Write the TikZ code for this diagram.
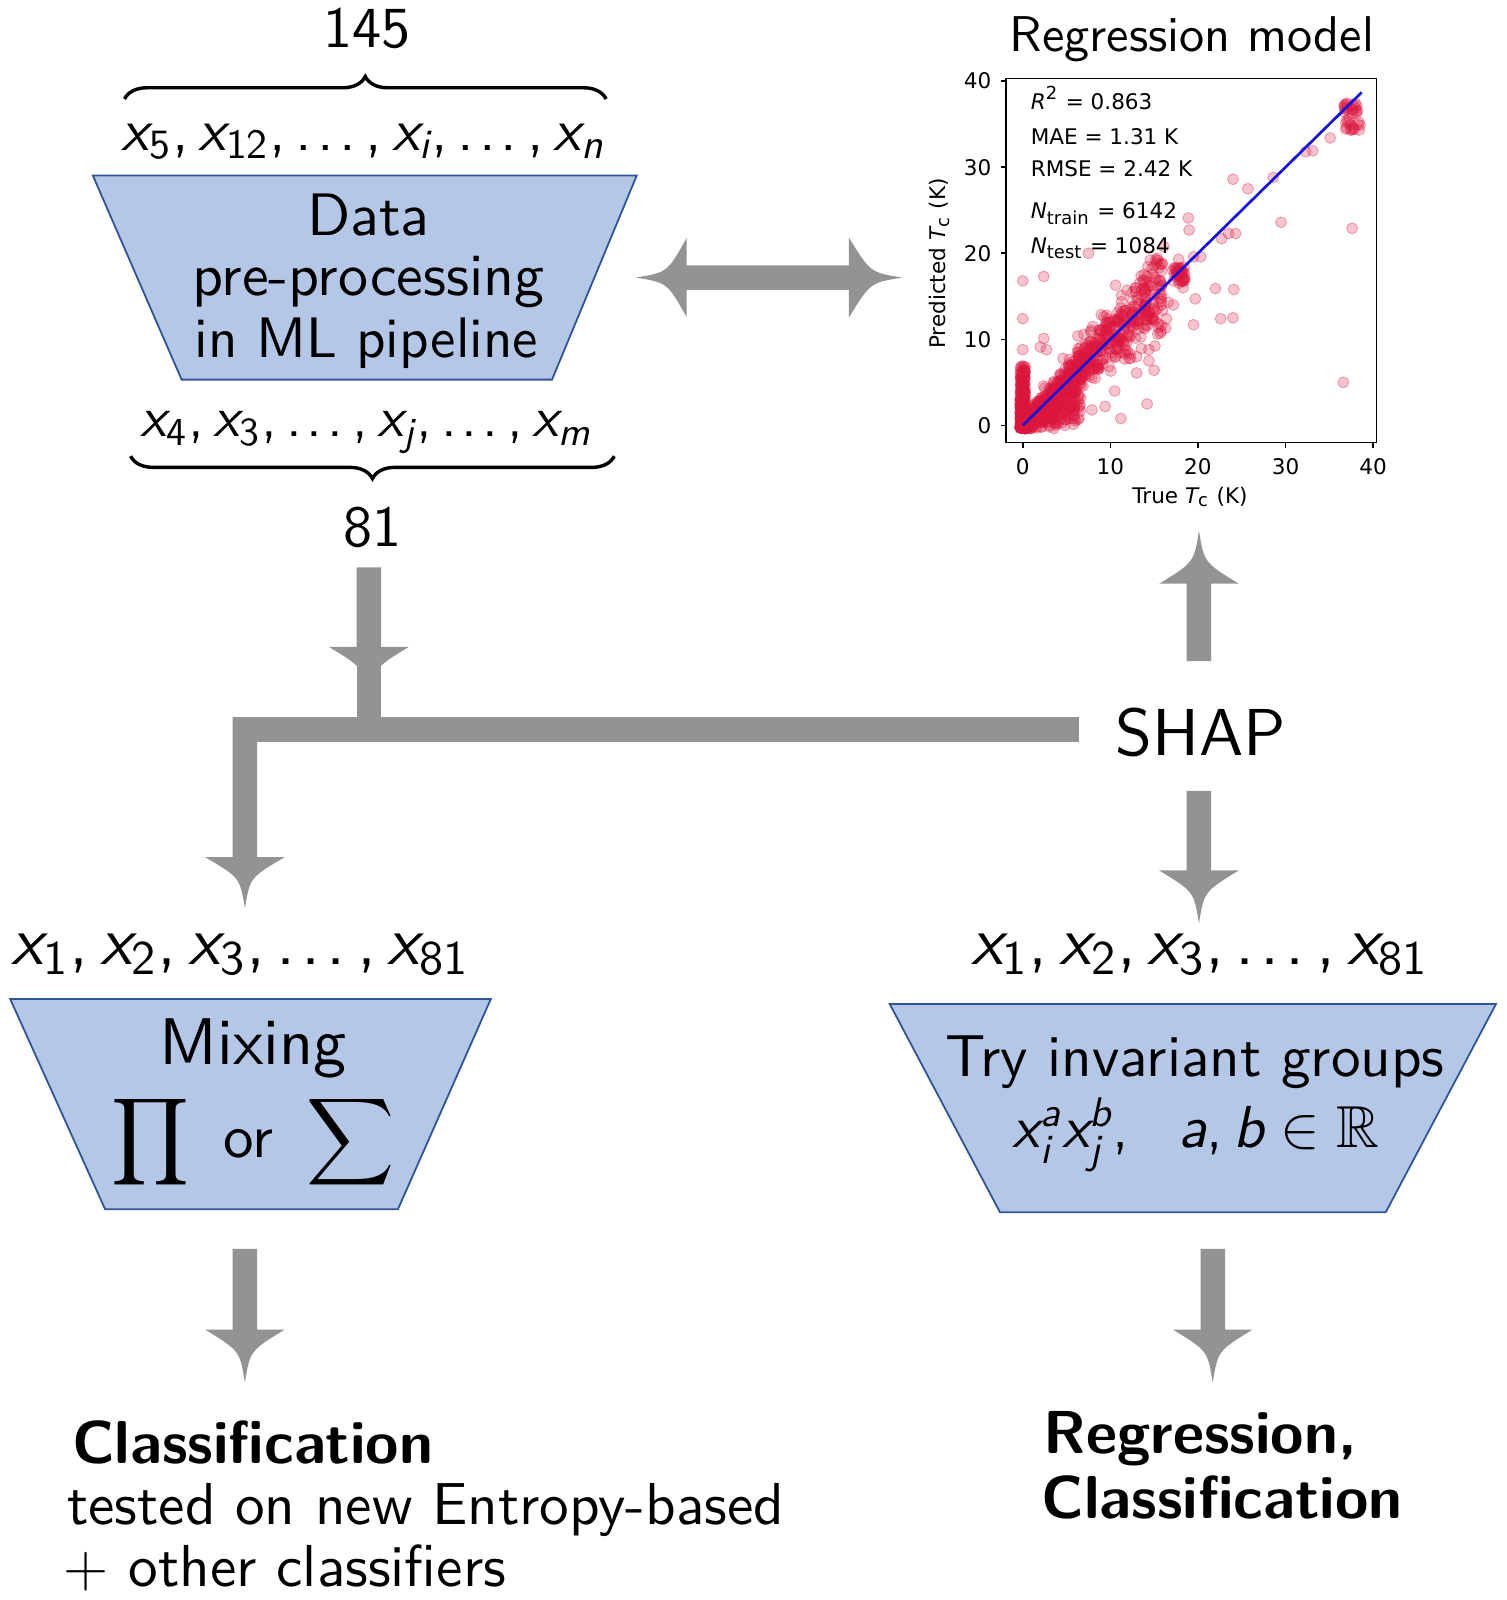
\RequirePackage{fix-cm}
\documentclass[tikz,border=0pt]{standalone}
\usepackage{amsmath}
\usepackage{amssymb}
\usepackage[no-math]{fontspec}
\setsansfont{lmsans10-regular.otf}[BoldFont=lmsans10-bold.otf, ItalicFont=lmsans10-oblique.otf, BoldItalicFont=lmsans10-boldoblique.otf]
\newfontfamily\lmsten{lmsans10-regular.otf}[NFSSFamily=lmsten, ItalicFont=lmsans10-oblique.otf]
\newfontfamily\plotfont{DejaVu Sans}
\DeclareSymbolFont{sfletters}{TU}{lmsten}{m}{it}
\DeclareSymbolFont{sfupright}{TU}{lmsten}{m}{n}
\DeclareMathSymbol{a}{\mathalpha}{sfletters}{`a}
\DeclareMathSymbol{b}{\mathalpha}{sfletters}{`b}
\DeclareMathSymbol{i}{\mathalpha}{sfletters}{`i}
\DeclareMathSymbol{j}{\mathalpha}{sfletters}{`j}
\DeclareMathSymbol{m}{\mathalpha}{sfletters}{`m}
\DeclareMathSymbol{n}{\mathalpha}{sfletters}{`n}
\DeclareMathSymbol{x}{\mathalpha}{sfletters}{`x}
\DeclareMathSymbol{0}{\mathalpha}{sfupright}{`0}
\DeclareMathSymbol{1}{\mathalpha}{sfupright}{`1}
\DeclareMathSymbol{2}{\mathalpha}{sfupright}{`2}
\DeclareMathSymbol{3}{\mathalpha}{sfupright}{`3}
\DeclareMathSymbol{4}{\mathalpha}{sfupright}{`4}
\DeclareMathSymbol{5}{\mathalpha}{sfupright}{`5}
\DeclareMathSymbol{8}{\mathalpha}{sfupright}{`8}
\DeclareMathSymbol{,}{\mathpunct}{sfupright}{`,}
\DeclareMathSymbol{\sfdot}{\mathord}{sfupright}{`.}
\newcommand\sfdots{\mathinner{\sfdot\mkern1.5mu\sfdot\mkern1.5mu\sfdot}}
\usetikzlibrary{decorations.pathreplacing}
\definecolor{boxfill}{RGB}{180,199,231}
\definecolor{boxline}{RGB}{47,85,151}
\definecolor{arrowgray}{RGB}{147,147,147}
\definecolor{dotred}{RGB}{220,20,60}
\definecolor{fitblue}{RGB}{20,20,225}

\newcommand\blockarrow[4]{% #1 start coordinate, #2 angle, #3 total length, #4 head length
  \begin{scope}[shift={(#1)}, rotate=#2]
    \fill[arrowgray] (0,-12) -- ({#3-#4},-12) -- ({#3-#4},-39)
      .. controls ({#3-0.6*#4},-5) .. (#3,0)
      .. controls ({#3-0.6*#4},5) .. ({#3-#4},39)
      -- ({#3-#4},12) -- (0,12) -- cycle;
  \end{scope}}

\tikzset{
  lbl/.style={inner sep=0pt, anchor=base},
  fs/.style={font=\sffamily\fontsize{#1}{#1}\selectfont},
  trap/.style={fill=boxfill, draw=boxline, line width=0.5pt},
  brace/.style={decorate, decoration={brace, amplitude=0.22cm}, line width=0.95pt},
  dot/.style={fill=dotred, fill opacity=0.25, draw=dotred, draw opacity=0.35, line width=0.25pt},
  plotlab/.style={inner sep=0pt, font=\plotfont\fontsize{6}{7}\selectfont},
}

\begin{document}
\begin{tikzpicture}[x=0.01cm, y=-0.01cm]
\useasboundingbox (0,0) rectangle (1476,1568);

% ---------- trapezoids ----------
\filldraw[trap] (91,172) -- (624,172) -- (541,372) -- (178,372) -- cycle;
\filldraw[trap] (10,979) -- (481,979) -- (390,1185) -- (103,1185) -- cycle;
\filldraw[trap] (872,984) -- (1466,984) -- (1358,1188) -- (980,1188) -- cycle;

% ---------- top-left block ----------
\node[lbl, fs=16.2] (n145) at (360,47) {145};
\draw[brace] (122,97) -- (594,97);
\node[lbl, fs=16.6] (toplist) at (356,147) {$x_5, x_{12}, \sfdots, x_i, \sfdots, x_n$};
\node[lbl, fs=16.7] (data) at (361,231) {Data};
\node[lbl, fs=16.7] (pre) at (361,290) {pre-processing};
\node[lbl, fs=15.9] (inml) at (359,350) {in ML pipeline};
\node[lbl, fs=15.8] (botlist) at (359,428) {$x_4, x_3, \sfdots, x_j, \sfdots, x_m$};
\draw[brace] (602,447) -- (128,447);
\node[lbl, fs=16.2] (n81) at (365,536) {81};

% ---------- double arrow ----------
\fill[arrowgray] (673,260) -- (832,260) -- (832,233) .. controls (853,267) .. (884,272)
  .. controls (853,277) .. (832,311) -- (832,284) -- (673,284) -- (673,311)
  .. controls (654,277) .. (623,272) .. controls (654,267) .. (673,233) -- cycle;

% ---------- plot ----------
\node[lbl, fs=14] (regtitle) at (1168,50) {Regression\ model};
\begin{scope}[shift={(1002.3,416.9)}, x=0.08578cm, y=0.0843cm]
  \begin{scope}
    \clip (-1.9,-1.97) rectangle (40.4,40.3);
    \pgfmathsetseed{4242}
    % strip at true Tc ~ 0
    \foreach \i in {1,...,300}{
      \pgfmathsetmacro\px{0.3*rand}
      \pgfmathsetmacro\py{-0.3+7.3*rnd^2.2}
      \filldraw[dot] (\px,\py) circle (0.63);
    }
    % dense region near origin
    \foreach \i in {1,...,380}{
      \pgfmathsetmacro\px{0.2+6.5*rnd^1.5}
      \pgfmathsetmacro\py{max(-0.35,\px*(0.1+1.05*rnd)+0.8*rand)}
      \filldraw[dot] (\px,\py) circle (0.63);
    }
    % band along the diagonal
    \foreach \i in {1,...,600}{
      \pgfmathsetmacro\px{0.5+15.5*rnd^1.2}
      \pgfmathsetmacro\py{max(-0.35,\px+(rand+rand+rand)*(0.5+0.13*\px))}
      \filldraw[dot] (\px,\py) circle (0.63);
    }
    % cluster near 18 K
    \foreach \i in {1,...,35}{
      \pgfmathsetmacro\px{17.8+0.7*rand}
      \pgfmathsetmacro\py{17.4+1.0*rand}
      \filldraw[dot] (\px,\py) circle (0.63);
    }
    % cluster near 38 K
    \foreach \i in {1,...,35}{
      \pgfmathsetmacro\px{37.6+0.9*rand}
      \pgfmathsetmacro\py{36.0+1.7*rand}
      \filldraw[dot] (\px,\py) circle (0.63);
    }
    % outliers
    \foreach \px/\py in {0/16.8,0/12.4,2.4/17.3,7.5/20.0,16.1/20.8,18.9/24.1,19.0/22.7,
      24.0/28.6,25.7/27.5,22.7/21.7,23.5/22.3,24.3/22.3,28.6/28.8,32.3/31.8,33.1/31.9,
      35.1/33.4,29.5/23.6,37.6/22.9,36.6/5.0,22.0/15.9,24.1/15.8,19.7/14.7,19.5/11.7,
      22.6/12.4,24.0/12.5,17.2/14.0,16.3/11.3,16.4/12.4,14.2/2.5,11.2/0.8,13.0/8.0,
      14.4/8.8,14.4/7.5,15.0/6.4,13.0/6.1,10.6/16.3,11.9/15.7,0/8.8,2.4/10.1,2.7/8.8,
      2.0/9.1,4.6/7.8,4.8/0,19.5/19.6,20.3/19.6,17.8/19.3,16.6/14.3,15.8/16.2,12.3/13.5,
      9.6/12.8,8.0/11.5,6.3/10.4,7.9/1.8,9.4/2.2,6.0/0.5,10.5/4.0,12.6/11.5,18.3/16.0}{
      \filldraw[dot] (\px,\py) circle (0.63);
    }
  \end{scope}
  \draw[fitblue, line width=0.75pt] (0,0) -- (38.7,38.7);
  \draw[line width=0.45pt] (-1.9,-1.97) rectangle (40.4,40.3);
  \foreach \v in {0,10,20,30,40}{
    \draw[line width=0.45pt] (\v,-1.97) -- ++(0,-0.6);
    \draw[line width=0.45pt] (-1.9,\v) -- ++(-0.6,0);
    \node[plotlab] (xt\v) at (\v,-4.8) {\v};
    \node[plotlab, anchor=east] (yt\v) at (-3.5,\v) {\v};
  }
  \node[plotlab] (xlab) at (19.1,-8.3) {True {\itshape T}\textsubscript{c} (K)};
  \node[plotlab, rotate=90] (ylab) at (-9.5,18.8) {Predicted {\itshape T}\textsubscript{c} (K)};
  \node[plotlab, anchor=base west] (r2) at (0.84,36.76) {{\itshape R}\textsuperscript{2} = 0.863};
  \node[plotlab, anchor=base west] (mae) at (0.84,32.67) {MAE = 1.31 K};
  \node[plotlab, anchor=base west] (rmse) at (0.84,28.93) {RMSE = 2.42 K};
  \node[plotlab, anchor=base west] (ntr) at (0.84,24.06) {{\itshape N}\textsubscript{train} = 6142};
  \node[plotlab, anchor=base west] (nte) at (0.84,20.0) {{\itshape N}\textsubscript{test} = 1084};
\end{scope}

% ---------- SHAP and flow arrows ----------
\node[lbl, fs=18.5] (shap) at (1177,740) {SHAP};

\coordinate (a81) at (361.5,556);
\blockarrow{a81}{-90}{130}{52}
\fill[arrowgray] (349.5,640) rectangle (373.5,715);
\fill[arrowgray] (228,703) rectangle (1057,727);
\coordinate (aleft) at (240,703);
\blockarrow{aleft}{-90}{187}{50}
\coordinate (aup) at (1175,648);
\blockarrow{aup}{90}{128}{52}
\coordinate (adown) at (1175,775);
\blockarrow{adown}{-90}{130}{52}
\coordinate (abl) at (240,1224);
\blockarrow{abl}{-90}{131}{52}
\coordinate (abr) at (1188.5,1224);
\blockarrow{abr}{-90}{131}{52}

% ---------- lower blocks ----------
\node[lbl, fs=19.2] (leftlist) at (236,945) {$x_1, x_2, x_3, \sfdots, x_{81}$};
\node[lbl, fs=19.2] (rightlist) at (1176,945) {$x_1, x_2, x_3, \sfdots, x_{81}$};
\node[lbl, fs=18.4] (mixing) at (248,1043) {Mixing};
\node[lbl, fs=17] (prodsum) at (248,1134) {$\displaystyle\prod$\hspace{0.55em}or\hspace{0.55em}$\displaystyle\sum$};
\node[lbl, fs=16.5] (tryinv) at (1171,1055) {Try invariant groups};
\node[lbl, fs=16.5] (formula) at (1172,1125) {$x_i^a x_j^b,\ \ a, b \in \mathbb{R}$};

% ---------- outputs ----------
\node[lbl, fs=16.9, anchor=base west] (cls) at (70,1434) {\bfseries Classification};
\node[lbl, fs=16.5, anchor=base west] (tested) at (65,1494) {tested on new Entropy-based};
\node[lbl, fs=16.5, anchor=base west] (other) at (62,1555) {$+$ other classifiers};
\node[lbl, fs=16.9, anchor=base west] (reg) at (1022,1424) {\bfseries Regression,};
\node[lbl, fs=16.9, anchor=base west] (cls2) at (1020,1488) {\bfseries Classification};
\end{tikzpicture}
\end{document}
